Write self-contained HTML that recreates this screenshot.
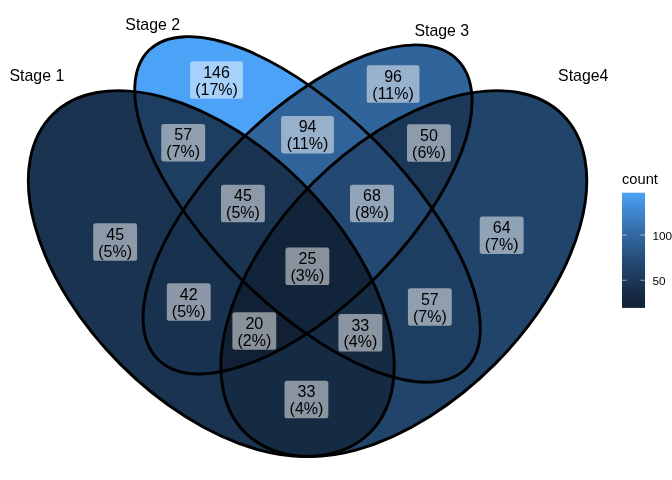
<!DOCTYPE html><html><head><meta charset="utf-8"><title>Venn</title><style>html,body{margin:0;padding:0;background:#fff;overflow:hidden}svg{display:block}text{font-family:"Liberation Sans",Arial,Helvetica,sans-serif;fill:#000}</style></head><body>
<svg width="672" height="480" viewBox="0 0 672 480">
<rect width="672" height="480" fill="#fff"/>
<defs>
<clipPath id="c1"><ellipse cx="211.28" cy="273.60" rx="224.63" ry="128.36" transform="rotate(-135 211.28 273.60)" /></clipPath>
<clipPath id="c2"><ellipse cx="307.55" cy="209.42" rx="224.63" ry="96.27" transform="rotate(-135 307.55 209.42)" /></clipPath>
<clipPath id="c3"><ellipse cx="307.55" cy="209.42" rx="211.79" ry="96.27" transform="rotate(-45 307.55 209.42)" /></clipPath>
<clipPath id="c4"><ellipse cx="403.82" cy="273.60" rx="224.63" ry="128.36" transform="rotate(-45 403.82 273.60)" /></clipPath>
<linearGradient id="lg" x1="0" y1="0" x2="0" y2="1"><stop offset="0.00" stop-color="#4ba2f7"/><stop offset="0.05" stop-color="#4799eb"/><stop offset="0.10" stop-color="#4491df"/><stop offset="0.15" stop-color="#4089d3"/><stop offset="0.20" stop-color="#3d82c7"/><stop offset="0.25" stop-color="#397abc"/><stop offset="0.30" stop-color="#3673b1"/><stop offset="0.35" stop-color="#336ba6"/><stop offset="0.40" stop-color="#30649c"/><stop offset="0.45" stop-color="#2d5e91"/><stop offset="0.50" stop-color="#2a5787"/><stop offset="0.55" stop-color="#27517e"/><stop offset="0.60" stop-color="#244a74"/><stop offset="0.65" stop-color="#21446b"/><stop offset="0.70" stop-color="#1f3f62"/><stop offset="0.75" stop-color="#1c395a"/><stop offset="0.80" stop-color="#1a3452"/><stop offset="0.85" stop-color="#172e4a"/><stop offset="0.90" stop-color="#152942"/><stop offset="0.95" stop-color="#13253b"/><stop offset="1.00" stop-color="#112034"/></linearGradient>
</defs>
<ellipse cx="211.28" cy="273.60" rx="224.63" ry="128.36" transform="rotate(-135 211.28 273.60)" fill="#193351"/>
<ellipse cx="307.55" cy="209.42" rx="224.63" ry="96.27" transform="rotate(-135 307.55 209.42)" fill="#4ba2f7"/>
<ellipse cx="307.55" cy="209.42" rx="211.79" ry="96.27" transform="rotate(-45 307.55 209.42)" fill="#30659c"/>
<ellipse cx="403.82" cy="273.60" rx="224.63" ry="128.36" transform="rotate(-45 403.82 273.60)" fill="#21446b"/>
<g clip-path="url(#c1)"><ellipse cx="307.55" cy="209.42" rx="224.63" ry="96.27" transform="rotate(-135 307.55 209.42)" fill="#1e3e61"/></g>
<g clip-path="url(#c1)"><ellipse cx="307.55" cy="209.42" rx="211.79" ry="96.27" transform="rotate(-45 307.55 209.42)" fill="#18314e"/></g>
<g clip-path="url(#c1)"><ellipse cx="403.82" cy="273.60" rx="224.63" ry="128.36" transform="rotate(-45 403.82 273.60)" fill="#152a43"/></g>
<g clip-path="url(#c2)"><ellipse cx="307.55" cy="209.42" rx="211.79" ry="96.27" transform="rotate(-45 307.55 209.42)" fill="#2f6399"/></g>
<g clip-path="url(#c2)"><ellipse cx="403.82" cy="273.60" rx="224.63" ry="128.36" transform="rotate(-45 403.82 273.60)" fill="#1e3e61"/></g>
<g clip-path="url(#c3)"><ellipse cx="403.82" cy="273.60" rx="224.63" ry="128.36" transform="rotate(-45 403.82 273.60)" fill="#1b3858"/></g>
<g clip-path="url(#c1)"><g clip-path="url(#c2)"><ellipse cx="307.55" cy="209.42" rx="211.79" ry="96.27" transform="rotate(-45 307.55 209.42)" fill="#193351"/></g></g>
<g clip-path="url(#c1)"><g clip-path="url(#c2)"><ellipse cx="403.82" cy="273.60" rx="224.63" ry="128.36" transform="rotate(-45 403.82 273.60)" fill="#152a43"/></g></g>
<g clip-path="url(#c1)"><g clip-path="url(#c3)"><ellipse cx="403.82" cy="273.60" rx="224.63" ry="128.36" transform="rotate(-45 403.82 273.60)" fill="#112034"/></g></g>
<g clip-path="url(#c2)"><g clip-path="url(#c3)"><ellipse cx="403.82" cy="273.60" rx="224.63" ry="128.36" transform="rotate(-45 403.82 273.60)" fill="#234871"/></g></g>
<g clip-path="url(#c1)"><g clip-path="url(#c2)"><g clip-path="url(#c3)"><ellipse cx="403.82" cy="273.60" rx="224.63" ry="128.36" transform="rotate(-45 403.82 273.60)" fill="#122439"/></g></g></g>
<ellipse cx="211.28" cy="273.60" rx="224.63" ry="128.36" transform="rotate(-135 211.28 273.60)" fill="none" stroke="#000" stroke-width="2.9"/>
<ellipse cx="307.55" cy="209.42" rx="224.63" ry="96.27" transform="rotate(-135 307.55 209.42)" fill="none" stroke="#000" stroke-width="2.9"/>
<ellipse cx="307.55" cy="209.42" rx="211.79" ry="96.27" transform="rotate(-45 307.55 209.42)" fill="none" stroke="#000" stroke-width="2.9"/>
<ellipse cx="403.82" cy="273.60" rx="224.63" ry="128.36" transform="rotate(-45 403.82 273.60)" fill="none" stroke="#000" stroke-width="2.9"/>
<rect x="93.20" y="223.31" width="43.88" height="37.5" rx="2.6" fill="#fff" fill-opacity="0.5"/>
<text x="115.14" y="239.81" font-size="16.0" text-anchor="middle">45</text>
<text x="115.14" y="256.71" font-size="16.0" text-anchor="middle">(5%)</text>
<rect x="190.15" y="61.37" width="52.77" height="37.5" rx="2.6" fill="#fff" fill-opacity="0.5"/>
<text x="216.54" y="77.87" font-size="16.0" text-anchor="middle">146</text>
<text x="216.54" y="94.77" font-size="16.0" text-anchor="middle">(17%)</text>
<rect x="366.70" y="65.34" width="52.77" height="37.5" rx="2.6" fill="#fff" fill-opacity="0.5"/>
<text x="393.08" y="81.84" font-size="16.0" text-anchor="middle">96</text>
<text x="393.08" y="98.74" font-size="16.0" text-anchor="middle">(11%)</text>
<rect x="479.71" y="216.38" width="43.88" height="37.5" rx="2.6" fill="#fff" fill-opacity="0.5"/>
<text x="501.65" y="232.88" font-size="16.0" text-anchor="middle">64</text>
<text x="501.65" y="249.78" font-size="16.0" text-anchor="middle">(7%)</text>
<rect x="161.28" y="123.88" width="43.88" height="37.5" rx="2.6" fill="#fff" fill-opacity="0.5"/>
<text x="183.21" y="140.38" font-size="16.0" text-anchor="middle">57</text>
<text x="183.21" y="157.28" font-size="16.0" text-anchor="middle">(7%)</text>
<rect x="166.81" y="283.36" width="43.88" height="37.5" rx="2.6" fill="#fff" fill-opacity="0.5"/>
<text x="188.74" y="299.86" font-size="16.0" text-anchor="middle">42</text>
<text x="188.74" y="316.76" font-size="16.0" text-anchor="middle">(5%)</text>
<rect x="284.50" y="380.82" width="43.88" height="37.5" rx="2.6" fill="#fff" fill-opacity="0.5"/>
<text x="306.44" y="397.32" font-size="16.0" text-anchor="middle">33</text>
<text x="306.44" y="414.22" font-size="16.0" text-anchor="middle">(4%)</text>
<rect x="281.14" y="115.93" width="52.77" height="37.5" rx="2.6" fill="#fff" fill-opacity="0.5"/>
<text x="307.53" y="132.43" font-size="16.0" text-anchor="middle">94</text>
<text x="307.53" y="149.33" font-size="16.0" text-anchor="middle">(11%)</text>
<rect x="407.93" y="288.17" width="43.88" height="37.5" rx="2.6" fill="#fff" fill-opacity="0.5"/>
<text x="429.87" y="304.67" font-size="16.0" text-anchor="middle">57</text>
<text x="429.87" y="321.57" font-size="16.0" text-anchor="middle">(7%)</text>
<rect x="407.00" y="124.35" width="43.88" height="37.5" rx="2.6" fill="#fff" fill-opacity="0.5"/>
<text x="428.94" y="140.85" font-size="16.0" text-anchor="middle">50</text>
<text x="428.94" y="157.75" font-size="16.0" text-anchor="middle">(6%)</text>
<rect x="221.00" y="184.82" width="43.88" height="37.5" rx="2.6" fill="#fff" fill-opacity="0.5"/>
<text x="242.94" y="201.32" font-size="16.0" text-anchor="middle">45</text>
<text x="242.94" y="218.22" font-size="16.0" text-anchor="middle">(5%)</text>
<rect x="338.42" y="314.09" width="43.88" height="37.5" rx="2.6" fill="#fff" fill-opacity="0.5"/>
<text x="360.35" y="330.59" font-size="16.0" text-anchor="middle">33</text>
<text x="360.35" y="347.49" font-size="16.0" text-anchor="middle">(4%)</text>
<rect x="232.38" y="312.21" width="43.88" height="37.5" rx="2.6" fill="#fff" fill-opacity="0.5"/>
<text x="254.32" y="328.71" font-size="16.0" text-anchor="middle">20</text>
<text x="254.32" y="345.61" font-size="16.0" text-anchor="middle">(2%)</text>
<rect x="350.01" y="184.70" width="43.88" height="37.5" rx="2.6" fill="#fff" fill-opacity="0.5"/>
<text x="371.95" y="201.20" font-size="16.0" text-anchor="middle">68</text>
<text x="371.95" y="218.10" font-size="16.0" text-anchor="middle">(8%)</text>
<rect x="285.47" y="247.58" width="43.88" height="37.5" rx="2.6" fill="#fff" fill-opacity="0.5"/>
<text x="307.40" y="264.08" font-size="16.0" text-anchor="middle">25</text>
<text x="307.40" y="280.98" font-size="16.0" text-anchor="middle">(3%)</text>
<text x="9.5" y="80.7" font-size="15.9">Stage 1</text>
<text x="125.3" y="29.7" font-size="15.9">Stage 2</text>
<text x="414.4" y="35.7" font-size="15.9">Stage 3</text>
<text x="558.1" y="80.7" font-size="15.9">Stage4</text>
<text x="622" y="183.9" font-size="14.67">count</text>
<rect x="622.0" y="192.7" width="23.04" height="115.2" fill="url(#lg)"/>
<path d="M622.0 280.30h4.61M645.04 280.30h-4.61" stroke="#fff" stroke-opacity="0.55" stroke-width="1.05" fill="none"/>
<text x="652.5" y="285.00" font-size="11.73">50</text>
<path d="M622.0 234.90h4.61M645.04 234.90h-4.61" stroke="#fff" stroke-opacity="0.55" stroke-width="1.05" fill="none"/>
<text x="652.5" y="239.60" font-size="11.73">100</text>
</svg></body></html>
